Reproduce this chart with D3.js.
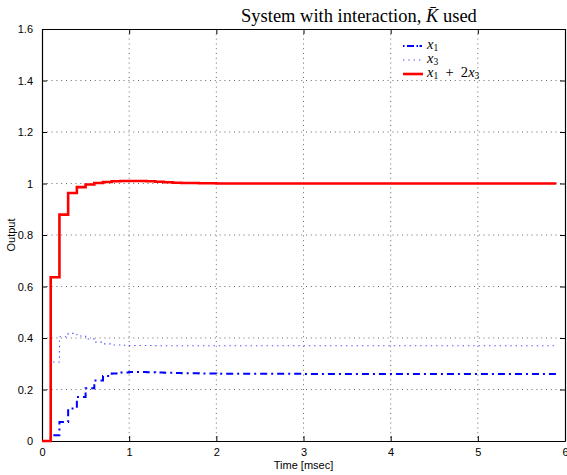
<!DOCTYPE html>
<html>
<head>
<meta charset="utf-8">
<script src="https://cdn.jsdelivr.net/npm/d3@7"></script>
<style>
  body { margin: 0; background: #fff; }
  svg { display: block; }
</style>
</head>
<body>
<div id="chart"></div>
<script>
// step change times (msec) (zero-order hold)
const time = [0, 0.1, 0.2, 0.3, 0.4, 0.5, 0.6, 0.7, 0.8, 0.9, 1.0, 1.1, 1.2, 1.3, 1.4, 1.5, 1.6, 1.8, 2.0, 2.5, 3.0, 5.9];
const x1 = [0, 0.022, 0.074, 0.126, 0.171, 0.205, 0.235, 0.252, 0.262, 0.266, 0.268, 0.268, 0.267, 0.266, 0.265, 0.264, 0.263, 0.262, 0.261, 0.261, 0.260, 0.260];
const x3 = [0, 0.307, 0.405, 0.418, 0.408, 0.396, 0.384, 0.377, 0.373, 0.372, 0.371, 0.371, 0.371, 0.370, 0.370, 0.370, 0.370, 0.370, 0.370, 0.370, 0.370, 0.370];
const sum = [0, 0.636, 0.879, 0.963, 0.986, 0.996, 1.002, 1.006, 1.009, 1.010, 1.010, 1.010, 1.009, 1.007, 1.005, 1.003, 1.002, 1.001, 1.000, 1.000, 1.000, 1.000];

const xTicks = [0, 1, 2, 3, 4, 5, 6];
const yTicks = [0, 0.2, 0.4, 0.6, 0.8, 1, 1.2, 1.4, 1.6];

const W = 567, H = 475;
const margin = {top: 29, right: 2, bottom: 34, left: 42};
const width = W - margin.left - margin.right;
const height = H - margin.top - margin.bottom;

const svg = d3.select("#chart")
  .append("svg")
  .attr("width", W)
  .attr("height", H)
  .style("font-family", "'Liberation Sans', Arial, sans-serif");

const g = svg.append("g")
  .attr("transform", "translate(" + margin.left + "," + margin.top + ")");

const x = d3.scaleLinear().domain([0, 6]).range([0, width]);
const y = d3.scaleLinear().domain([0, 1.6]).range([height, 0]);

// dotted grid
g.append("g")
  .selectAll("line")
  .data(xTicks.slice(1, -1))
  .join("line")
  .attr("x1", d => x(d)).attr("x2", d => x(d))
  .attr("y1", 0).attr("y2", height)
  .attr("stroke", "#444").attr("stroke-width", 0.8)
  .attr("stroke-dasharray", "1,3.8");
g.append("g")
  .selectAll("line")
  .data(yTicks.slice(1, -1))
  .join("line")
  .attr("y1", d => y(d)).attr("y2", d => y(d))
  .attr("x1", 0).attr("x2", width)
  .attr("stroke", "#444").attr("stroke-width", 0.8)
  .attr("stroke-dasharray", "1,3.8");

// axes, ticks pointing inward on all four sides
const fmt = d => d3.format("")(d);
g.append("g")
  .attr("transform", "translate(0," + height + ")")
  .call(d3.axisBottom(x).tickValues(xTicks).tickSizeInner(-5).tickSizeOuter(0).tickPadding(7).tickFormat(fmt));
g.append("g")
  .call(d3.axisLeft(y).tickValues(yTicks).tickSizeInner(-5).tickSizeOuter(0).tickPadding(9).tickFormat(fmt));
g.append("g")
  .call(d3.axisTop(x).tickValues(xTicks).tickSizeInner(-5).tickSizeOuter(0).tickFormat(""));
g.append("g")
  .attr("transform", "translate(" + width + ",0)")
  .call(d3.axisRight(y).tickValues(yTicks).tickSizeInner(-5).tickSizeOuter(0).tickFormat(""));
g.selectAll(".domain").attr("stroke", "#000").attr("stroke-width", 1.2);
g.selectAll(".tick line").attr("stroke", "#000");
g.selectAll(".tick text").style("font-size", "11px").attr("fill", "#000")
  .style("font-family", "'Liberation Sans', Arial, sans-serif");

// series
const series = [
  {name: "x1", values: x1, color: "#0000ff", width: 2, dash: "7,4,2,4"},
  {name: "x3", values: x3, color: "#5050ff", width: 1.1, dash: "1.4,3.9"},
  {name: "sum", values: sum, color: "#ff0000", width: 2.6, dash: null}
];

const line = d3.line()
  .curve(d3.curveStepAfter)
  .x(d => x(d[0]))
  .y(d => y(d[1]));

series.forEach(s => {
  g.append("path")
    .datum(time.map((t, i) => [t, s.values[i]]))
    .attr("fill", "none")
    .attr("stroke", s.color)
    .attr("stroke-width", s.width)
    .attr("stroke-dasharray", s.dash)
    .attr("d", line);
});

// legend (no box)
const legend = svg.append("g");
const rows = [46, 60, 74];
series.forEach((s, i) => {
  legend.append("line")
    .attr("x1", 403).attr("x2", 423)
    .attr("y1", rows[i]).attr("y2", rows[i])
    .attr("stroke", s.color)
    .attr("stroke-width", s.width)
    .attr("stroke-dasharray", s.name === "x1" ? "1.5,2.5,7,2.5,1.5" : s.dash);
});
function mathText(sel, parts) {
  parts.forEach(p => {
    const t = sel.append("tspan").text(p.t);
    if (p.i) t.style("font-style", "italic");
    if (p.sub) t.attr("dy", p.dy).style("font-size", "9.5px");
    else if (p.dy) t.attr("dy", p.dy);
  });
}
const labelAttrs = sel => sel.attr("x", 427)
  .style("font-family", "'Liberation Serif', 'DejaVu Serif', serif")
  .style("font-size", "14.5px").attr("fill", "#000");
mathText(legend.append("text").call(labelAttrs).attr("y", rows[0] + 3),
  [{t: "x", i: true}, {t: "1", sub: true, dy: 2}]);
mathText(legend.append("text").call(labelAttrs).attr("y", rows[1] + 3),
  [{t: "x", i: true}, {t: "3", sub: true, dy: 2}]);
mathText(legend.append("text").call(labelAttrs).attr("y", rows[2] + 3),
  [{t: "x", i: true}, {t: "1", sub: true, dy: 2}, {t: "\u2002+\u20022", dy: -2}, {t: "x", i: true}, {t: "3", sub: true, dy: 2}]);

// title and axis labels
const title = svg.append("text")
  .attr("x", 241)
  .attr("y", 22)
  .style("font-family", "'Liberation Serif', 'DejaVu Serif', serif")
  .style("font-size", "18.5px");
title.append("tspan").text("System with interaction, ");
title.append("tspan").style("font-style", "italic").text("K\u0304");
title.append("tspan").text(" used");

svg.append("text")
  .attr("x", margin.left + width / 2)
  .attr("y", 469)
  .attr("text-anchor", "middle")
  .style("font-size", "11px")
  .text("Time [msec]");

svg.append("text")
  .attr("transform", "translate(15," + (margin.top + height / 2) + ") rotate(-90)")
  .attr("text-anchor", "middle")
  .style("font-size", "11px")
  .text("Output");
</script>
</body>
</html>
